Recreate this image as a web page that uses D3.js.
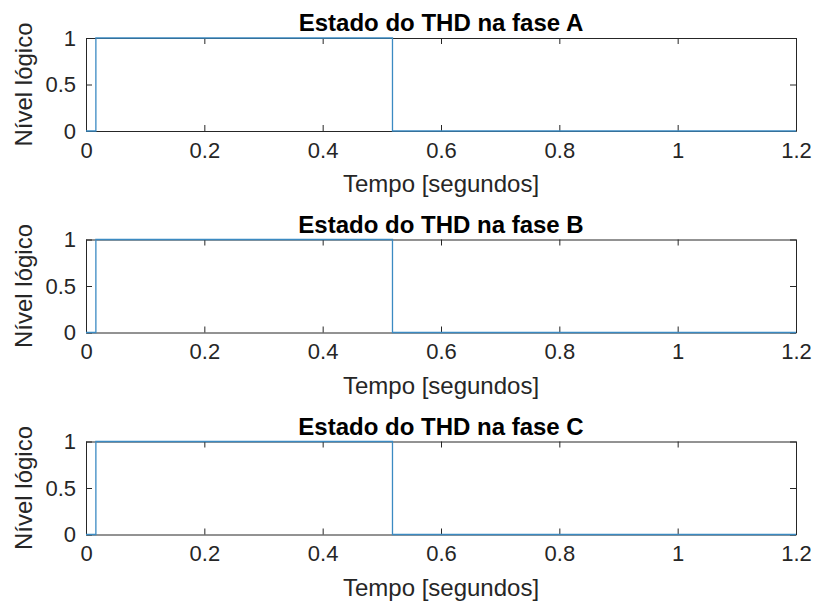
<!DOCTYPE html>
<html><head><meta charset="utf-8">
<script src="https://cdn.jsdelivr.net/npm/d3@7"></script>
<style>body{margin:0;background:#fff}</style>
</head><body>
<script>
const phases = ["A", "B", "C"];
const titles = ["Estado do THD na fase A", "Estado do THD na fase B", "Estado do THD na fase C"];
// step signal: time (s) and logic level
const timeA = [0, 0.0167, 0.0167, 0.518, 0.518, 1.2];
const levelA = [0, 0, 1, 1, 0, 0];
const timeB = [0, 0.0167, 0.0167, 0.518, 0.518, 1.2];
const levelB = [0, 0, 1, 1, 0, 0];
const timeC = [0, 0.0167, 0.0167, 0.518, 0.518, 1.2];
const levelC = [0, 0, 1, 1, 0, 0];
const xTicks = [0, 0.2, 0.4, 0.6, 0.8, 1, 1.2];
const yTicks = [0, 0.5, 1];
const xLabel = "Tempo [segundos]";
const yLabel = "Nível lógico";

const series = [[timeA, levelA], [timeB, levelB], [timeC, levelC]];
const W = 814, H = 606;
const FONT = "'Liberation Sans', Arial, sans-serif";
const svg = d3.select("body").append("svg").attr("width", W).attr("height", H)
  .style("font-family", FONT);

const left = 86, right = 796;
const tops = [38, 239.5, 441.5];
const ph = 93;
const x = d3.scaleLinear().domain([0, 1.2]).range([left, right]);
const fmt = d => d === 0 ? "0" : d3.format("~g")(d);

series.forEach((s, i) => {
  const y = d3.scaleLinear().domain([0, 1]).range([tops[i] + ph, tops[i]]);
  const g = svg.append("g");
  // title
  g.append("text").attr("x", (left + right) / 2).attr("y", tops[i] - 7)
    .attr("text-anchor", "middle").attr("font-weight", "bold").attr("font-size", 24)
    .attr("fill", "#000").text(titles[i]);
  // axes
  const ax = d3.axisBottom(x).tickValues(xTicks).tickFormat(fmt).tickSizeInner(-6).tickSizeOuter(0).tickPadding(11);
  const axT = d3.axisTop(x).tickValues(xTicks).tickFormat("").tickSizeInner(-6).tickSizeOuter(0);
  const ay = d3.axisLeft(y).tickValues(yTicks).tickFormat(fmt).tickSizeInner(-6).tickSizeOuter(0).tickPadding(10);
  const ayR = d3.axisRight(y).tickValues(yTicks).tickFormat("").tickSizeInner(-6).tickSizeOuter(0);
  const style = sel => {
    sel.selectAll("path").attr("stroke", "#262626").attr("stroke-width", 1);
    sel.selectAll("line").attr("stroke", "#262626");
    sel.selectAll("text").attr("fill", "#262626").attr("font-size", 22).attr("font-family", FONT);
  };
  g.append("g").attr("transform", `translate(0,${tops[i] + ph})`).call(ax).call(style);
  g.append("g").attr("transform", `translate(0,${tops[i]})`).call(axT).call(style);
  g.append("g").attr("transform", `translate(${left},0)`).call(ay).call(style);
  g.append("g").attr("transform", `translate(${right},0)`).call(ayR).call(style);
  // data line (on top of axes)
  const data = s[0].map((t, k) => [t, s[1][k]]);
  g.append("path").datum(data)
    .attr("d", d3.line().x(d => x(d[0])).y(d => y(d[1])))
    .attr("fill", "none").attr("stroke", "#3b8ac2").attr("stroke-width", 1.3);
  // labels
  g.append("text").attr("x", (left + right) / 2).attr("y", tops[i] + ph + 61)
    .attr("text-anchor", "middle").attr("font-size", 24).attr("fill", "#262626").text(xLabel);
  g.append("text").attr("transform", `translate(32,${tops[i] + ph / 2}) rotate(-90)`)
    .attr("text-anchor", "middle").attr("font-size", 24).attr("fill", "#262626").text(yLabel);
});
</script>
</body></html>
